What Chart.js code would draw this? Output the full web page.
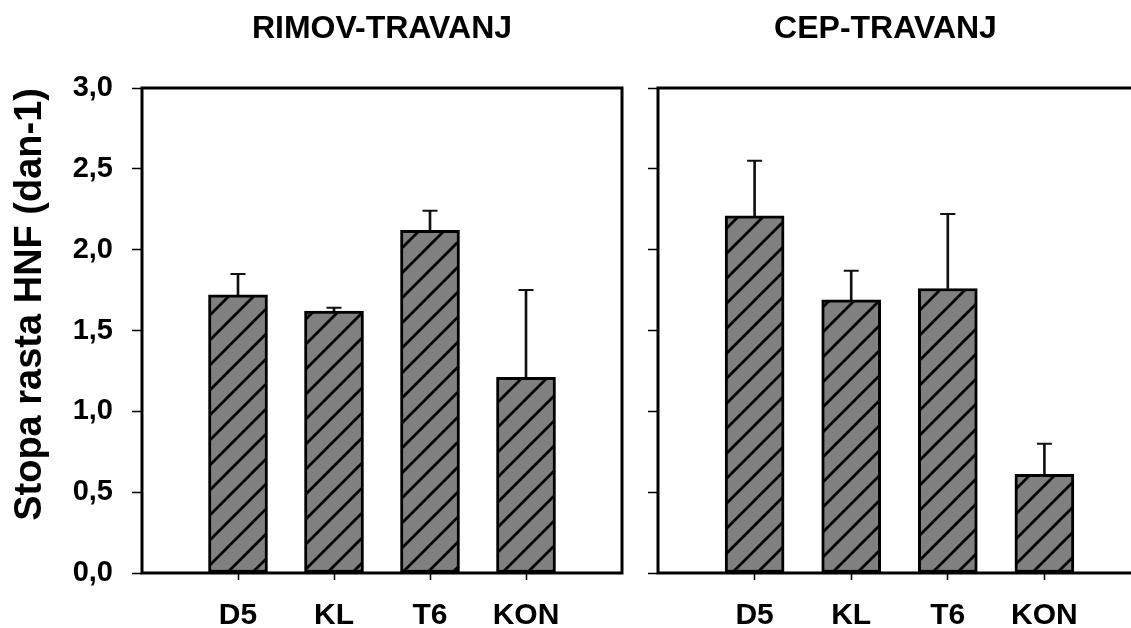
<!DOCTYPE html>
<html lang="hr">
<head>
<meta charset="UTF-8">
<title>Stopa rasta HNF</title>
<script src="https://cdn.jsdelivr.net/npm/chart.js@4"></script>
<style>
html,body{margin:0;padding:0;background:#fff;overflow:hidden;width:1131px;height:628px;}
.panel{position:absolute;top:0;height:628px;}
#left{left:0;width:640px;}
#right{left:630px;width:530px;}
</style>
</head>
<body>
<div class="panel" id="left"><canvas id="c1"></canvas></div>
<div class="panel" id="right"><canvas id="c2"></canvas></div>
<script>
// podaci ocitani sa slike
const kategorije   = ['D5', 'KL', 'T6', 'KON'];
const rimovSrednja = [1.72, 1.62, 2.12, 1.21];
const rimovGreska  = [0.13, 0.02, 0.12, 0.54];
const cepSrednja   = [2.21, 1.69, 1.76, 0.61];
const cepGreska    = [0.34, 0.18, 0.46, 0.19];
const yOznake      = ['0,0', '0,5', '1,0', '1,5', '2,0', '2,5', '3,0'];

Chart.defaults.font.family = '"Liberation Sans", Arial, sans-serif';
Chart.defaults.font.weight = 'bold';
Chart.defaults.color = '#000';

// srafura za stupce
function srafura() {
  const s = 25, c = document.createElement('canvas');
  c.width = s; c.height = s;
  const g = c.getContext('2d');
  g.fillStyle = '#808080'; g.fillRect(0, 0, s, s);
  g.strokeStyle = '#000'; g.lineWidth = 2.8;
  g.beginPath();
  g.moveTo(-2, s + 2); g.lineTo(s + 2, -2);
  g.moveTo(-2, 2); g.lineTo(2, -2);
  g.moveTo(s - 2, s + 2); g.lineTo(s + 2, s - 2);
  g.stroke();
  return g.createPattern(c, 'repeat');
}
const uzorak = srafura();

// okvir oko podrucja grafa
const okvir = {
  id: 'okvir',
  afterDatasetsDraw(chart) {
    const {ctx, chartArea: a} = chart;
    ctx.save();
    ctx.lineWidth = 3;
    ctx.strokeStyle = '#000';
    ctx.strokeRect(a.left, a.top, a.right - a.left, a.bottom - a.top);
    ctx.restore();
  }
};

function panel(id, naslov, srednja, greska, lijevi) {
  const pad = v => [null, ...v, null];
  const vrh = srednja.map((v, i) => v + greska[i]);
  const zadnji = kategorije.length + 1;
  return new Chart(document.getElementById(id), {
    type: 'bar',
    data: {
      labels: ['', ...kategorije, ''],
      datasets: [
        { type: 'line', data: pad(vrh), showLine: false, pointStyle: 'line',
          pointRadius: 7.5, pointHoverRadius: 7.5, pointBorderWidth: 2,
          pointBorderColor: '#111', borderColor: '#111' },
        { data: pad(srednja), backgroundColor: uzorak, borderColor: '#000',
          borderWidth: 3, borderSkipped: false, barThickness: 59, grouped: false },
        { data: pad(srednja.map((v, i) => [v, vrh[i]])), backgroundColor: '#111',
          borderWidth: 0, barThickness: 2, grouped: false }
      ]
    },
    options: {
      animation: false,
      responsive: true,
      maintainAspectRatio: false,
      events: [],
      layout: { padding: { left: 0, right: lijevi ? 15 : 19, top: 0, bottom: 0 } },
      plugins: {
        legend: { display: false },
        tooltip: { enabled: false },
        title: { display: true, text: naslov, fullSize: !lijevi, color: '#000',
                 font: { size: 32, weight: 'bold' }, padding: { top: 10, bottom: 39.6 } }
      },
      scales: {
        x: {
          type: 'category', offset: false,
          grid: { drawOnChartArea: false, offset: false, tickLength: 7, tickWidth: 1.5,
                  tickColor: c => (c.index === 0 || c.index === zadnji) ? 'rgba(0,0,0,0)' : '#000' },
          border: { display: false },
          ticks: { autoSkip: false, maxRotation: 0, padding: 18, color: '#000',
                   font: { size: 30, weight: 'bold' } },
          afterFit: s => { s.height = 55; }
        },
        y: {
          min: 0, max: 3,
          grid: { drawOnChartArea: false, tickLength: 10, tickWidth: 1.5, tickColor: '#000' },
          border: { display: false },
          ticks: { stepSize: 0.5, padding: 19, color: '#000', font: { size: 29, weight: 'bold' },
                   callback: (v, i) => lijevi ? yOznake[i] : '' },
          title: { display: lijevi, text: 'Stopa rasta HNF (dan-1)', align: 'end', color: '#000',
                   font: { size: 38, weight: 'bold' }, padding: { top: 8, bottom: 0 } },
          afterFit: s => { s.width = lijevi ? 142 : 28; }
        }
      }
    },
    plugins: [okvir]
  });
}

panel('c1', 'RIMOV-TRAVANJ', rimovSrednja, rimovGreska, true);
panel('c2', 'CEP-TRAVANJ', cepSrednja, cepGreska, false);
</script>
</body>
</html>
